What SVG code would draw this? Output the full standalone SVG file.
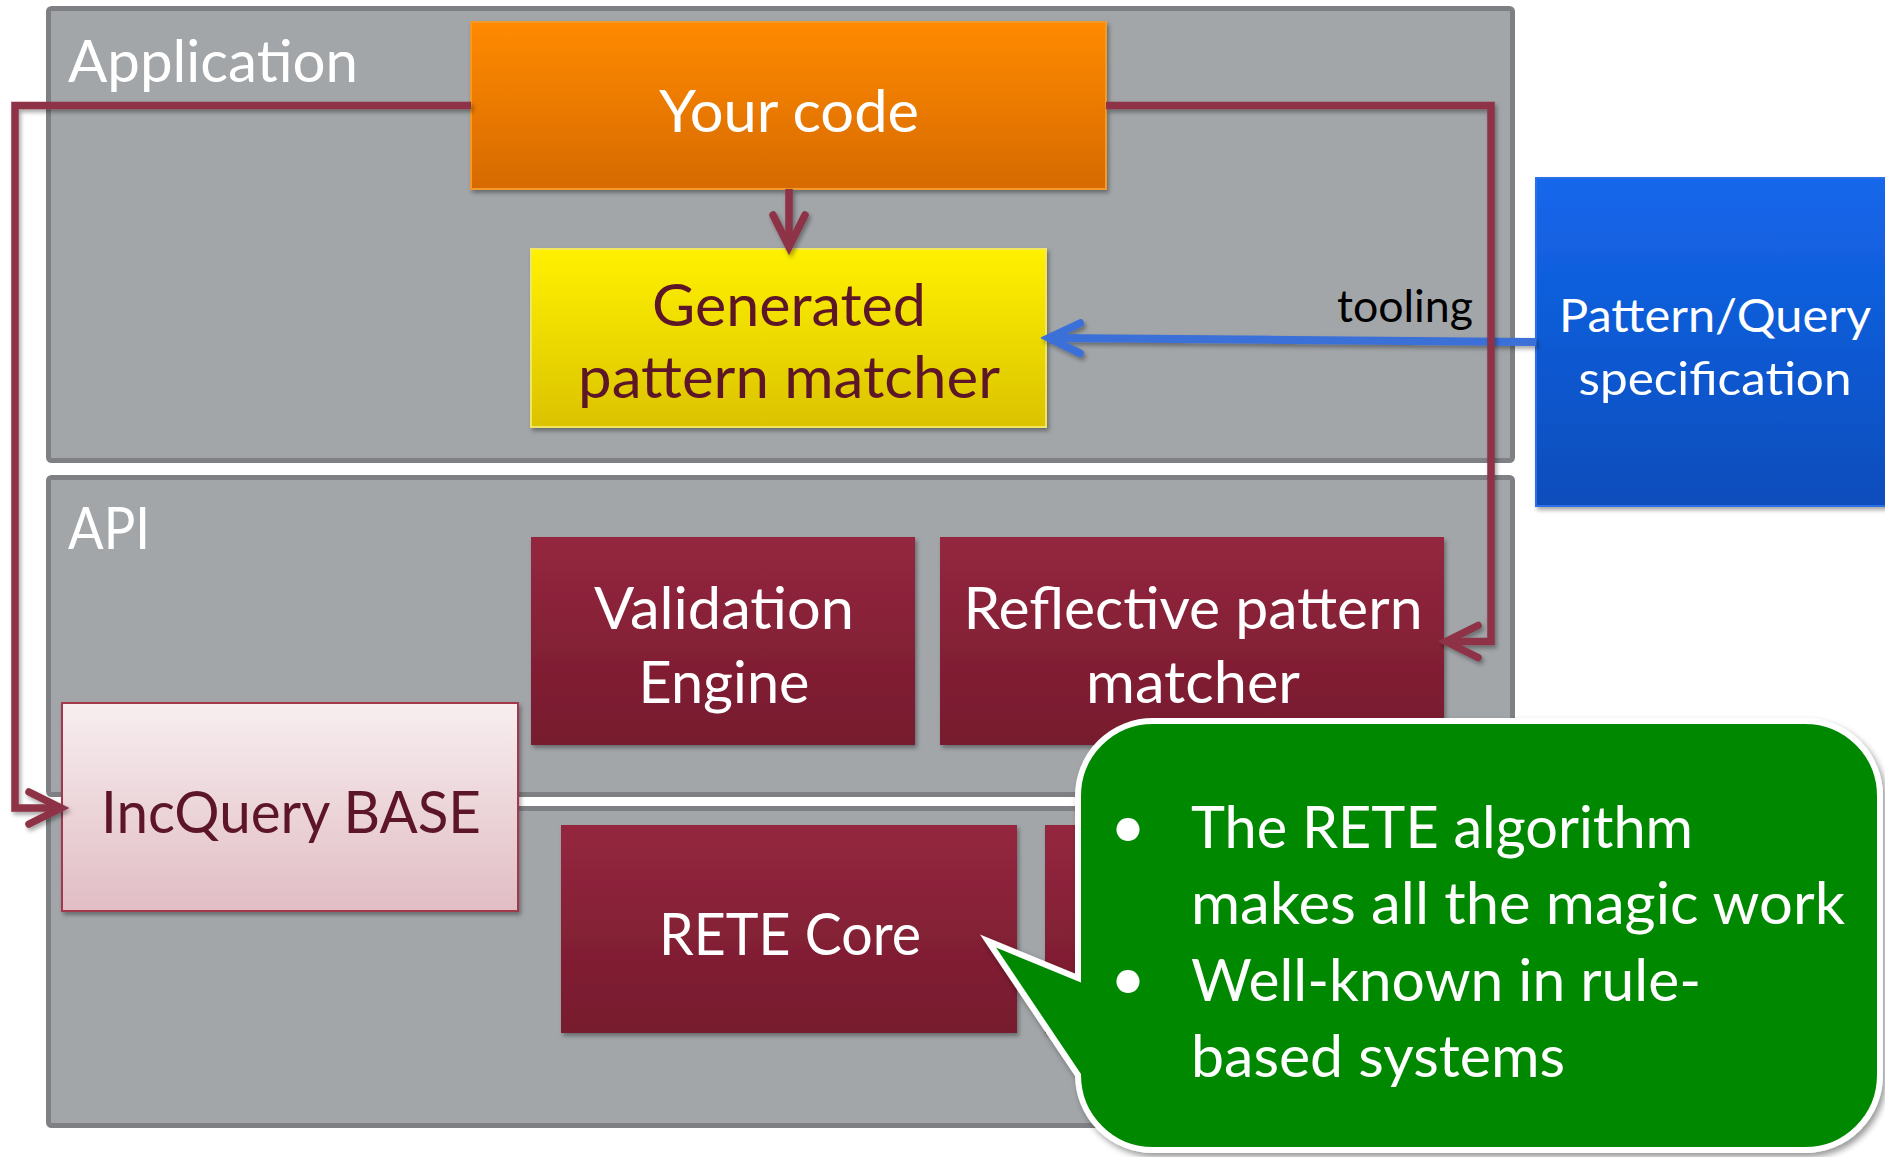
<svg xmlns="http://www.w3.org/2000/svg" width="1885" height="1157" viewBox="0 0 1885 1157">
<defs>
  <linearGradient id="gOrange" x1="0" y1="0" x2="0" y2="1">
    <stop offset="0" stop-color="#ff8a00"/><stop offset="1" stop-color="#d66a00"/>
  </linearGradient>
  <linearGradient id="gYellow" x1="0" y1="0" x2="0" y2="1">
    <stop offset="0" stop-color="#fff100"/><stop offset="1" stop-color="#dbc300"/>
  </linearGradient>
  <linearGradient id="gMaroon" x1="0" y1="0" x2="0" y2="1">
    <stop offset="0" stop-color="#94273f"/><stop offset="1" stop-color="#761a2d"/>
  </linearGradient>
  <linearGradient id="gPink" x1="0" y1="0" x2="0" y2="1">
    <stop offset="0" stop-color="#f7eef0"/><stop offset="1" stop-color="#e1bdc4"/>
  </linearGradient>
  <linearGradient id="gBlue" x1="0" y1="0" x2="0" y2="1">
    <stop offset="0" stop-color="#1467ec"/><stop offset="1" stop-color="#0a4dbb"/>
  </linearGradient>
  <filter id="sh" filterUnits="userSpaceOnUse" x="0" y="0" width="1885" height="1157">
    <feDropShadow dx="2" dy="3" stdDeviation="2" flood-color="#000" flood-opacity="0.35"/>
  </filter>
  <filter id="shB" filterUnits="userSpaceOnUse" x="0" y="0" width="1885" height="1157">
    <feDropShadow dx="3" dy="4" stdDeviation="3" flood-color="#000" flood-opacity="0.4"/>
  </filter>
  <marker id="ahR" markerUnits="userSpaceOnUse" markerWidth="48" markerHeight="48" viewBox="0 0 48 48" refX="40" refY="24" orient="auto">
    <path d="M8,8 L40,24 L8,40" fill="none" stroke="#8e3347" stroke-width="7.5" stroke-linecap="round" stroke-linejoin="miter" stroke-miterlimit="10"/>
  </marker>
  <marker id="ahB" markerUnits="userSpaceOnUse" markerWidth="48" markerHeight="48" viewBox="0 0 48 48" refX="40" refY="24" orient="auto">
    <path d="M9,9 L40,24 L9,39" fill="none" stroke="#3a6fd8" stroke-width="8" stroke-linecap="round" stroke-linejoin="miter" stroke-miterlimit="10"/>
  </marker>
  <style>
    .panel{fill:#a2a6a9;stroke:#7e8083;stroke-width:5}
    .t{font-family:Lato,"Liberation Sans",sans-serif;font-size:58px;text-anchor:middle}
    .w{fill:#ffffff}
    .d{fill:#5c1628}
    .mar{fill:url(#gMaroon);filter:url(#sh)}
    .conn{fill:none;stroke:#8e3347;stroke-width:7.5;stroke-linejoin:miter;filter:url(#sh)}
    .bt{font-family:Lato,"Liberation Sans",sans-serif;font-size:58px;fill:#ffffff}
  </style>
</defs>
<rect x="0" y="0" width="1885" height="1157" fill="#ffffff"/>

<g id="panel-application">
  <rect class="panel" x="48.5" y="8.5" width="1464" height="452" rx="3"/>
  <text class="t w" x="68" y="82" style="text-anchor:start" textLength="290" lengthAdjust="spacingAndGlyphs">Application</text>
</g>
<g id="panel-api">
  <rect class="panel" x="48.5" y="477.5" width="1464" height="317" rx="3"/>
  <text class="t w" x="68" y="549" style="text-anchor:start" textLength="82" lengthAdjust="spacingAndGlyphs">API</text>
</g>
<g id="panel-lower">
  <rect class="panel" x="48.5" y="808.5" width="1464" height="317" rx="3"/>
</g>

<g id="node-your-code">
  <rect x="471" y="22" width="635" height="167" fill="url(#gOrange)" stroke="#f39a2a" stroke-width="2" filter="url(#sh)"/>
  <text class="t w" x="789" y="132" textLength="260" lengthAdjust="spacingAndGlyphs">Your code</text>
</g>
<g id="node-generated">
  <rect x="531" y="249" width="515" height="178" fill="url(#gYellow)" stroke="#f2e660" stroke-width="2" filter="url(#sh)"/>
  <text class="t d" x="789" y="326" textLength="274" lengthAdjust="spacingAndGlyphs">Generated</text>
  <text class="t d" x="789" y="398" textLength="422" lengthAdjust="spacingAndGlyphs">pattern matcher</text>
</g>
<g id="node-pattern-spec">
  <rect x="1536" y="178" width="360" height="328" fill="url(#gBlue)" stroke="#2a70e6" stroke-width="2" filter="url(#sh)"/>
  <text class="t w" x="1715" y="332" style="font-size:47px" textLength="312" lengthAdjust="spacingAndGlyphs">Pattern/Query</text>
  <text class="t w" x="1715" y="395" style="font-size:47px" textLength="273" lengthAdjust="spacingAndGlyphs">specification</text>
</g>
<g id="node-validation">
  <rect class="mar" x="531" y="537" width="384" height="208"/>
  <text class="t w" x="724" y="629" textLength="260" lengthAdjust="spacingAndGlyphs">Validation</text>
  <text class="t w" x="724" y="703" textLength="171" lengthAdjust="spacingAndGlyphs">Engine</text>
</g>
<g id="node-reflective">
  <rect class="mar" x="940" y="537" width="504" height="208"/>
  <text class="t w" x="1193" y="629" textLength="459" lengthAdjust="spacingAndGlyphs">Reflective pattern</text>
  <text class="t w" x="1193" y="703" textLength="214" lengthAdjust="spacingAndGlyphs">matcher</text>
</g>
<g id="node-incquery-base">
  <rect x="62" y="703" width="456" height="208" fill="url(#gPink)" stroke="#a3384e" stroke-width="2" filter="url(#sh)"/>
  <text class="t d" x="291" y="833" textLength="380" lengthAdjust="spacingAndGlyphs">IncQuery BASE</text>
</g>
<g id="node-rete-core">
  <rect class="mar" x="561" y="825" width="456" height="208"/>
  <text class="t w" x="790" y="955" textLength="262" lengthAdjust="spacingAndGlyphs">RETE Core</text>
</g>
<g id="node-hidden">
  <rect class="mar" x="1045" y="825" width="400" height="208"/>
</g>

<g id="connectors">
  <path class="conn" d="M789,189 L789,247" marker-end="url(#ahR)"/>
  <path d="M1536,342 L1049,338" fill="none" stroke="#3a6fd8" stroke-width="8" filter="url(#sh)" marker-end="url(#ahB)"/>
  <text x="1473" y="322" style="font-family:Lato,'Liberation Sans',sans-serif;font-size:44px;text-anchor:end;fill:#000" textLength="136" lengthAdjust="spacingAndGlyphs">tooling</text>
  <path class="conn" d="M1106,105.5 L1491,105.5 L1491,641.5 L1446,641.5" marker-end="url(#ahR)"/>
  <path class="conn" d="M471,105.5 L15,105.5 L15,808 L61,808" marker-end="url(#ahR)"/>
</g>

<g id="callout">
  <path d="M1153,721 H1805 A75,75 0 0 1 1880,796 V1075 A75,75 0 0 1 1805,1150 H1153 A75,75 0 0 1 1078,1075 L988,941 L1078,978 V796 A75,75 0 0 1 1153,721 Z" fill="#028902" stroke="#ffffff" stroke-width="6" stroke-linejoin="miter" filter="url(#shB)"/>
  <text class="bt" x="1128" y="848" style="text-anchor:middle;font-size:62px">•</text>
  <text class="bt" x="1191" y="848" textLength="502" lengthAdjust="spacingAndGlyphs">The RETE algorithm</text>
  <text class="bt" x="1191" y="924" textLength="654" lengthAdjust="spacingAndGlyphs">makes all the magic work</text>
  <text class="bt" x="1128" y="1000" style="text-anchor:middle;font-size:62px">•</text>
  <text class="bt" x="1191" y="1001" textLength="510" lengthAdjust="spacingAndGlyphs">Well-known in rule-</text>
  <text class="bt" x="1191" y="1077" textLength="374" lengthAdjust="spacingAndGlyphs">based systems</text>
</g>
</svg>
